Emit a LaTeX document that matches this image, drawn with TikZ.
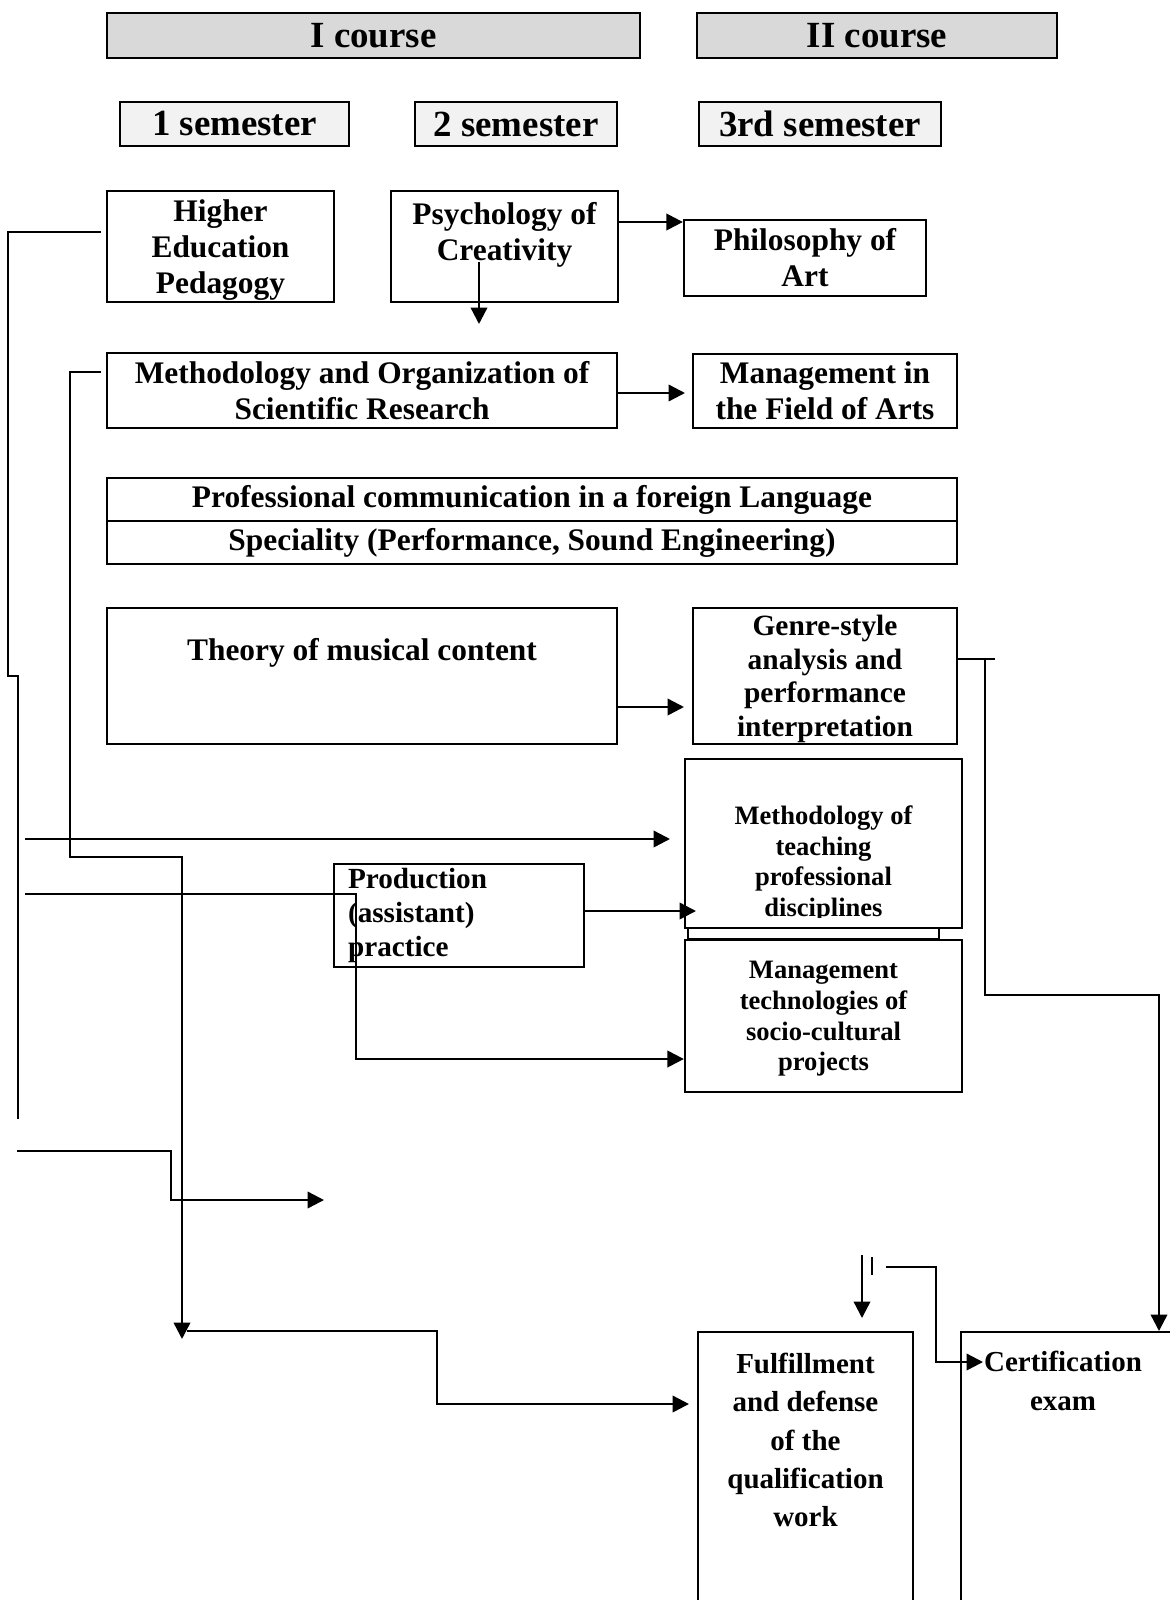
\documentclass[tikz,border=0pt]{standalone}
\usepackage{fontspec}
\setmainfont{Liberation Serif}
\usepackage{tikz}
\usetikzlibrary{arrows.meta}
\definecolor{coursegray}{HTML}{D9D9D9}
\definecolor{semgray}{HTML}{F2F2F2}

\tikzset{
	box/.style={draw,line width=1.1pt,inner sep=0pt,align=center,font=\bfseries\fontsize{14.3}{16.4}\selectfont},
	headbox/.style={box,fill=coursegray,minimum height=0.72cm,font=\bfseries\fontsize{16.8}{19}\selectfont},
	sembox/.style={box,fill=semgray,minimum height=0.704cm,font=\bfseries\fontsize{16.8}{19}\selectfont},
	genrebox/.style={box,font=\bfseries\fontsize{13.4}{15.3}\selectfont},
	smallbox/.style={box,font=\bfseries\fontsize{12.1}{14}\selectfont},
	lowtext/.style={align=center,inner sep=0pt,font=\bfseries\fontsize{13.2}{17.5}\selectfont},
	link/.style={line width=1.1pt},
	thinlink/.style={line width=0.7pt},
	arr/.style={link,-{Triangle[length=7.5pt,width=7.5pt]}}
}

\begin{document}
\begin{tikzpicture}[x=0.016cm,y=-0.016cm]
					\clip (0,0) rectangle (1170,1600);
					\coordinate (hepout) at (101,232);
					\coordinate (hj1) at (8,232);
					\coordinate (hj2) at (8,676);
					\coordinate (hj3) at (18,676);
					\coordinate (hend) at (18,1119);
					\coordinate (mo0) at (101,372);
					\coordinate (mo1) at (70,372);
					\coordinate (mo2) at (70,857);
					\coordinate (mo3) at (182,857);
					\coordinate (mo4) at (182,1339);
					\coordinate (q0) at (187,1331);
					\coordinate (q1) at (437,1331);
					\coordinate (q2) at (437,1404);
					\coordinate (q3) at (689,1404);
					\coordinate (l0) at (25,839);
					\coordinate (l1) at (670,839);
					\coordinate (p0) at (25,894);
					\coordinate (p1) at (356,894);
					\coordinate (p2) at (356,1059);
					\coordinate (r0) at (17,1151);
					\coordinate (r1) at (171,1151);
					\coordinate (r2) at (171,1200);
					\coordinate (r3) at (324,1200);
					\coordinate (g1) at (995,659);
					\coordinate (g2) at (985,659);
					\coordinate (g3) at (985,995);
					\coordinate (g4) at (1159,995);
					\coordinate (g5) at (1159,1331);
					\coordinate (s0) at (862,1255);
					\coordinate (s1) at (862,1318);
					\coordinate (t0) at (872,1257);
					\coordinate (t1) at (872,1275);
					\coordinate (c0) at (886,1267);
					\coordinate (c1) at (936,1267);
					\coordinate (c2) at (936,1362);
					\coordinate (c3) at (983,1362);
					\coordinate (psydown) at (479,324);
					
					\node (course1) at (373.5,35.5) [headbox,minimum width=8.528cm] {I course};
					\node (course2) at (877,35.5) [headbox,minimum width=5.76cm] {II course};
					\node (sem1) at (234.5,124) [sembox,minimum width=3.664cm] {1 semester};
					\node (sem2) at (516,124) [sembox,minimum width=3.232cm] {2 semester};
					\node (sem3) at (820,124) [sembox,minimum width=3.872cm] {3rd semester};
					
					\node (hep) at (220.5,246.5) [box,minimum width=3.632cm,minimum height=1.776cm] {};
					\node (heptext) at (220.5,250) [box,draw=none] {Higher\\Education\\Pedagogy};
					\node (psy) at (504.5,246.5) [box,minimum width=3.632cm,minimum height=1.776cm] {};
					\node (psytext) at (504.5,235) [box,draw=none] {Psychology of\\Creativity};
					\node (phil) at (805,258) [box,minimum width=3.872cm,minimum height=1.216cm] {Philosophy of\\Art};
					\node (methorg) at (362,390.5) [box,minimum width=8.16cm,minimum height=1.2cm] {Methodology and Organization of\\Scientific Research};
					\node (mgmt) at (825,391) [box,minimum width=4.224cm,minimum height=1.184cm] {Management in\\the Field of Arts};
					\node (prof) at (532,499.5) [box,minimum width=13.6cm,minimum height=0.688cm] {Professional communication in a foreign Language};
					\node (spec) at (532,542.5) [box,minimum width=13.6cm,minimum height=0.688cm] {Speciality (Performance, Sound Engineering)};
					\node (theory) at (362,676) [box,minimum width=8.16cm,minimum height=2.176cm] {};
					\node (theorytext) at (362,653) [box,draw=none] {Theory of musical content};
					\node (genre) at (825,676) [genrebox,minimum width=4.224cm,minimum height=2.176cm] {};
					\node (genretext) at (825,679) [genrebox,draw=none] {Genre-style\\analysis and\\performance\\interpretation};
					
					\node (mtback) at (813.5,854.5) [box,minimum width=4.016cm,minimum height=2.704cm] {};
					\node (mt) at (823.5,843.5) [box,fill=white,minimum width=4.432cm,minimum height=2.704cm] {};
					\begin{scope}
						\clip (685,759) rectangle (962,917);
						\node (mttext) at (823.5,864) [smallbox,draw=none] {Methodology of\\teaching\\professional\\disciplines};
					\end{scope}
					\node (mtech) at (823.5,1016) [smallbox,fill=white,minimum width=4.432cm,minimum height=2.432cm] {};
					\node (mtechtext) at (823.5,1019) [smallbox,draw=none] {Management\\technologies of\\socio-cultural\\projects};
					\node (prod) at (459,915.5) [box,align=left,inner xsep=0.224cm,text width=3.552cm,minimum height=1.648cm,font=\bfseries\fontsize{13.3}{15.3}\selectfont] {Production\\(assistant)\\practice};
					
					\node (fulfil) at (805.5,1486) [box,minimum width=3.44cm,minimum height=4.928cm] {};
					\node (fulfiltext) at (805.5,1440) [lowtext] {Fulfillment\\and defense\\of the\\qualification\\work};
					\node (cert) at (1080.5,1486) [box,minimum width=3.824cm,minimum height=4.928cm] {};
					\node (certtext) at (1063,1381) [lowtext] {Certification\\exam};
					
					\draw[arr] (psy.east |- 0,222) to[] (phil.west |- 0,222);
					\draw[arr] (psy.center -| psydown) ++(0,15.5) to[] (psydown);
					\draw[arr] (methorg.east |- 0,393) to[] (685,393);
					\draw[arr] (theory.east |- 0,707) to[] (684,707);
					\draw[thinlink] (hepout) to[] (hj1) to[] (hj2) to[] (hj3) to[] (hend);
					\draw[arr] (mo0) to[] (mo1) to[] (mo2) to[] (mo3) to[] (mo4);
					\draw[arr] (q0) to[] (q1) to[] (q2) to[] (q3);
					\draw[arr] (l0) to[] (l1);
					\draw[arr] (p0) to[] (p1) to[] (p2) to[] (mtech.west |- p2);
					\draw[arr] (prod.east |- 0,911) to[] (696,911);
					\draw[arr] (r0) to[] (r1) to[] (r2) to[] (r3);
					\draw[link] (genre.east |- g1) to[] (g1);
					\draw[arr] (g2) to[] (g3) to[] (g4) to[] (g5);
					\draw[arr] (s0) to[] (s1);
					\draw[thinlink] (t0) to[] (t1);
					\draw[arr] (c0) to[] (c1) to[] (c2) to[] (c3);
				\end{tikzpicture}
\end{document}
